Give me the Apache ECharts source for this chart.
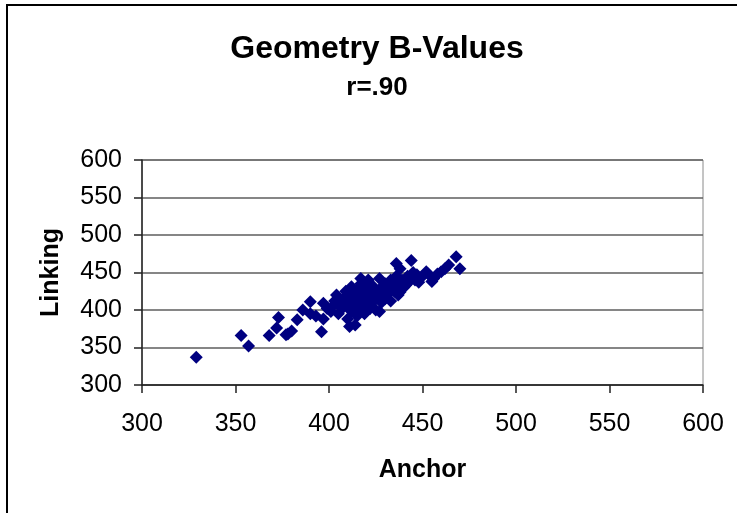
<!DOCTYPE html>
<html>
<head>
<meta charset="utf-8">
<script src="https://cdn.jsdelivr.net/npm/echarts@6/dist/echarts.min.js"></script>
<style>
  html, body { margin: 0; padding: 0; background: #fff; }
  #chart { width: 737px; height: 513px; }
</style>
</head>
<body>
<div id="chart"></div>
<script>
// Anchor vs Linking B-values
const anchor = [
  329, 353, 357, 368, 373, 372, 377, 378, 383, 386, 380, 390, 390, 393, 396, 397, 399, 397,
  401, 402, 403, 404, 405, 406, 407, 408, 409, 410, 410, 411, 411, 412, 412, 413, 414, 414,
  415, 415, 416, 416, 417, 417, 418, 418, 419, 419, 420, 420, 421, 421, 422, 422, 423, 423,
  424, 425, 425, 426, 427, 427, 428, 428, 429, 430, 430, 431, 432, 433, 433, 434, 435, 435,
  436, 436, 437, 437, 438, 438, 439, 440, 441, 442, 443, 444, 445, 446, 447, 448, 450, 452,
  453, 455, 456, 458, 460, 462, 464, 468, 470
];
const linking = [
  337, 366, 352, 366, 390, 376, 367, 368, 387, 400, 372, 411, 395, 392, 371, 409, 402, 388,
  398, 405, 412, 420, 395, 410, 402, 416, 425, 388, 405, 378, 412, 431, 398, 420, 380, 408,
  392, 427, 415, 402, 442, 435, 410, 420, 395, 430, 405, 415, 425, 440, 402, 418, 433, 410,
  426, 415, 400, 420, 398, 442, 430, 410, 422, 415, 435, 420, 428, 412, 440, 438, 430, 425,
  462, 445, 420, 435, 455, 424, 440, 430, 433, 445, 438, 466, 450, 440, 447, 437, 445, 451,
  448, 438, 442, 448, 451, 455, 460, 471, 455
];
const xTicks = [300, 350, 400, 450, 500, 550, 600];
const yTicks = [300, 350, 400, 450, 500, 550, 600];

const points = anchor.map((a, i) => [a, linking[i]]);
const font = 'Liberation Sans, Arial, sans-serif';

const chart = echarts.init(document.getElementById('chart'));
chart.setOption({
  animation: false,
  backgroundColor: '#fff',
  title: {
    text: 'Geometry B-Values',
    subtext: 'r=.90',
    left: 372,
    top: 28,
    textAlign: 'center',
    itemGap: 10,
    textStyle: { fontFamily: font, fontSize: 32, fontWeight: 'bold', color: '#000' },
    subtextStyle: { fontFamily: font, fontSize: 26, fontWeight: 'bold', color: '#000' }
  },
  graphic: [{
    type: 'rect',
    shape: { x: 7, y: 5, width: 800, height: 600 },
    style: { fill: 'none', stroke: '#000', lineWidth: 2 },
    silent: true
  }],
  grid: {
    left: 142, right: 34, top: 160, bottom: 128,
    show: true, borderColor: '#8a8a8a', borderWidth: 1, backgroundColor: 'transparent'
  },
  xAxis: {
    type: 'value',
    min: xTicks[0],
    max: xTicks[xTicks.length - 1],
    interval: 50,
    name: 'Anchor',
    nameLocation: 'middle',
    nameGap: 73,
    nameTextStyle: { fontFamily: font, fontSize: 25, fontWeight: 'bold', color: '#000' },
    axisLine: { lineStyle: { color: '#222', width: 1.5 } },
    axisTick: { show: true, inside: false, length: 8, lineStyle: { color: '#222', width: 1.5 } },
    axisLabel: { fontFamily: font, fontSize: 25, color: '#000', margin: 27 },
    splitLine: { show: false }
  },
  yAxis: {
    type: 'value',
    min: yTicks[0],
    max: yTicks[yTicks.length - 1],
    interval: 50,
    name: 'Linking',
    nameLocation: 'middle',
    nameGap: 78,
    nameTextStyle: { fontFamily: font, fontSize: 25, fontWeight: 'bold', color: '#000' },
    axisLine: { show: true, lineStyle: { color: '#222', width: 1.5 } },
    axisTick: { show: true, inside: false, length: 8, lineStyle: { color: '#222', width: 1.5 } },
    axisLabel: { fontFamily: font, fontSize: 25, color: '#000', margin: 20 },
    splitLine: { show: true, lineStyle: { color: '#5e5e5e', width: 1.5 } }
  },
  series: [{
    type: 'scatter',
    data: points,
    symbol: 'diamond',
    symbolSize: 13,
    itemStyle: { color: '#000080', opacity: 1 }
  }]
});
</script>
</body>
</html>
